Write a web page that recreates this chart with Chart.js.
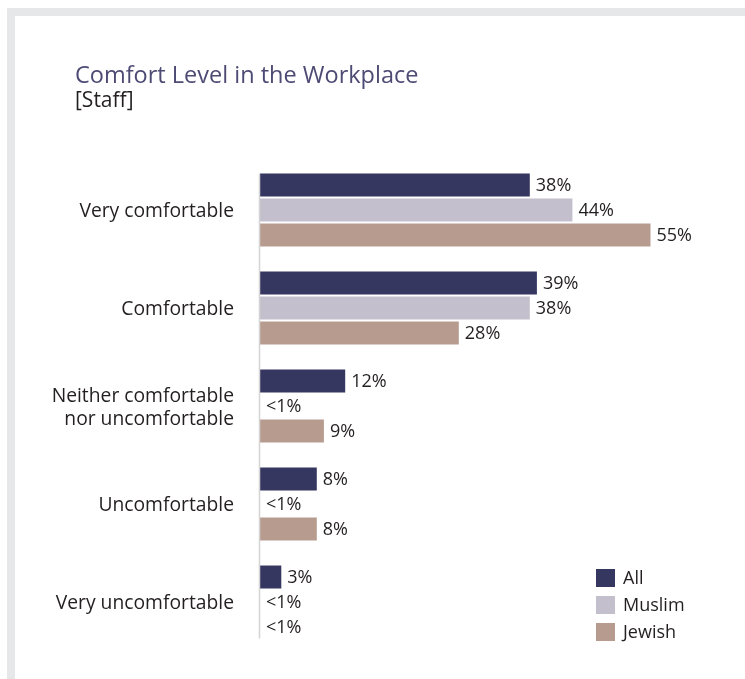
<!DOCTYPE html>
<html>
<head>
<meta charset="utf-8">
<script src="https://cdn.jsdelivr.net/npm/chart.js@4"></script>
<style>
  html, body { margin: 0; padding: 0; background: #fff; overflow: hidden; }
  .frame-top { position: absolute; left: 7px; top: 8px; width: 738px; height: 8px; background: #e6e7e8; }
  .frame-left { position: absolute; left: 7px; top: 8px; width: 8px; height: 671px; background: #e6e7e8; }
  #chart { position: absolute; left: 0; top: 0; }
  .heading { position: absolute; left: 75px; margin: 0; font-family: 'Open Sans', sans-serif; font-weight: normal; line-height: 1; white-space: nowrap; }
  #title { top: 63px; font-size: 23.5px; color: #4d4b74; }
  #subtitle { top: 89px; font-size: 21px; color: #231f20; }
</style>
</head>
<body>
<div class="frame-top"></div>
<div class="frame-left"></div>
<canvas id="chart" width="745" height="679"></canvas>
<h1 class="heading" id="title">Comfort Level in the Workplace</h1>
<div class="heading" id="subtitle">[Staff]</div>
<script>
const categories = [
  "Very comfortable",
  "Comfortable",
  ["Neither comfortable", "nor uncomfortable"],
  "Uncomfortable",
  "Very uncomfortable"
];

// percent of staff; 0 stands for under 1%
const allStaff = [38, 39, 12, 8, 3];
const muslimStaff = [44, 38, 0, 0, 0];
const jewishStaff = [55, 28, 9, 8, 0];

const seriesNames = ["All", "Muslim", "Jewish"];
const seriesColors = ["#363760", "#c4bfcc", "#b89b8f"];

const textColor = "#231f20";
const fontFamily = "'Open Sans', sans-serif";

function pctLabel(v) {
  return v < 1 ? "<1%" : v + "%";
}

// value labels at the end of every bar, plus the thin baseline
const barLabels = {
  id: 'barLabels',
  afterDatasetsDraw(chart) {
    const ctx = chart.ctx;
    ctx.save();

    // baseline runs from the first bar's top to the last bar's bottom
    const firstMeta = chart.getDatasetMeta(0);
    const lastMeta = chart.getDatasetMeta(chart.data.datasets.length - 1);
    const firstBar = firstMeta.data[0];
    const lastBar = lastMeta.data[lastMeta.data.length - 1];
    const x0 = chart.scales.x.getPixelForValue(0);
    ctx.strokeStyle = "#d4d4d4";
    ctx.lineWidth = 1.5;
    ctx.beginPath();
    ctx.moveTo(x0 - 0.5, firstBar.y - firstBar.height / 2);
    ctx.lineTo(x0 - 0.5, lastBar.y + lastBar.height / 2);
    ctx.stroke();

    ctx.font = "18px " + fontFamily;
    ctx.fillStyle = textColor;
    ctx.textAlign = "left";
    ctx.textBaseline = "middle";
    chart.data.datasets.forEach((ds, i) => {
      const meta = chart.getDatasetMeta(i);
      meta.data.forEach((bar, j) => {
        ctx.fillText(pctLabel(ds.data[j]), bar.x + 6, bar.y + 1);
      });
    });
    ctx.restore();
  }
};

// legend stacked in the lower right corner
const cornerLegend = {
  id: 'cornerLegend',
  afterDraw(chart) {
    const ctx = chart.ctx;
    ctx.save();
    ctx.font = "18px " + fontFamily;
    ctx.textBaseline = "middle";
    ctx.textAlign = "left";
    chart.data.datasets.forEach((ds, i) => {
      const top = 569 + i * 27;
      ctx.fillStyle = ds.backgroundColor;
      ctx.fillRect(596, top, 19, 18);
      ctx.fillStyle = textColor;
      ctx.fillText(ds.label, 623, top + 9.5);
    });
    ctx.restore();
  }
};

const ctx = document.getElementById('chart').getContext('2d');

new Chart(ctx, {
  type: 'bar',
  data: {
    labels: categories,
    datasets: [allStaff, muslimStaff, jewishStaff].map((values, i) => ({
      label: seriesNames[i],
      data: values,
      backgroundColor: seriesColors[i],
      categoryPercentage: 0.765,
      barPercentage: 0.92
    }))
  },
  options: {
    indexAxis: 'y',
    responsive: false,
    animation: false,
    layout: {
      padding: { top: 161, left: 15, right: 59, bottom: 28 }
    },
    scales: {
      x: {
        display: false,
        min: 0,
        max: 60
      },
      y: {
        grid: { display: false, drawTicks: false },
        border: { display: false },
        ticks: {
          padding: 26,
          labelOffset: 2,
          color: textColor,
          font: { family: fontFamily, size: 19.3, lineHeight: 1.15 }
        },
        afterFit(scale) {
          // fixed label column; labels never overflow the padded area
          scale.width = 245;
          scale.paddingTop = 0;
          scale.paddingBottom = 0;
        }
      }
    },
    plugins: {
      legend: { display: false },
      tooltip: { enabled: false }
    }
  },
  plugins: [barLabels, cornerLegend]
});
</script>
</body>
</html>
